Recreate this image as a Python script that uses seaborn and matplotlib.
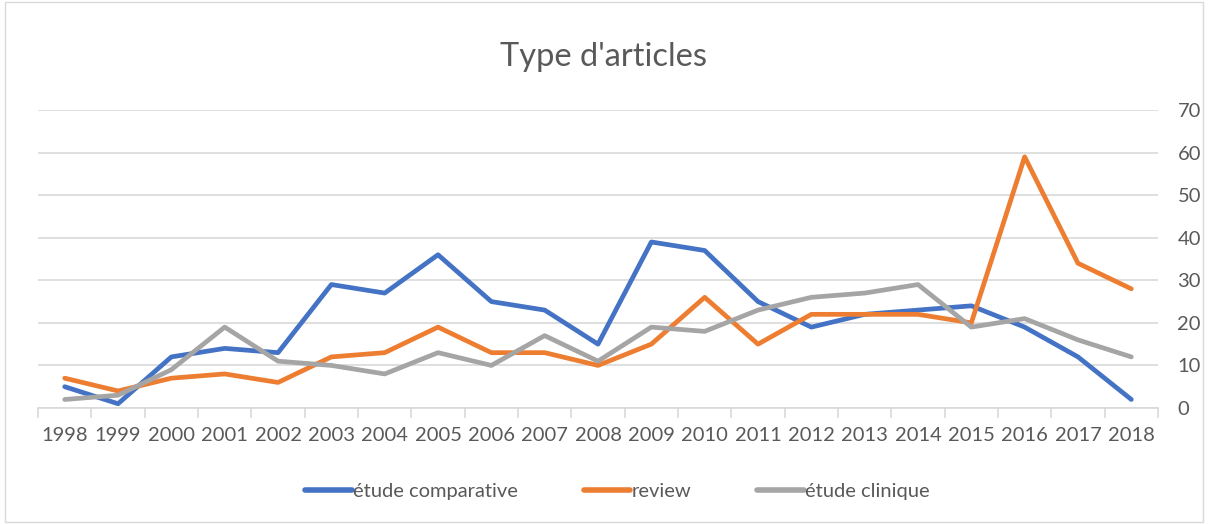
import pandas as pd
import seaborn as sns
import matplotlib.pyplot as plt
from matplotlib.ticker import MultipleLocator, FixedLocator

# Data
years = [str(y) for y in range(1998, 2019)]
etude_comparative = [5, 1, 12, 14, 13, 29, 27, 36, 25, 23, 15, 39, 37, 25, 19, 22, 23, 24, 19, 12, 2]
review = [7, 4, 7, 8, 6, 12, 13, 19, 13, 13, 10, 15, 26, 15, 22, 22, 22, 20, 59, 34, 28]
etude_clinique = [2, 3, 9, 19, 11, 10, 8, 13, 10, 17, 11, 19, 18, 23, 26, 27, 29, 19, 21, 16, 12]
series_names = ["étude comparative", "review", "étude clinique"]
palette = ["#4472C4", "#ED7D31", "#A5A5A5"]

df = pd.DataFrame({"year": years,
                   series_names[0]: etude_comparative,
                   series_names[1]: review,
                   series_names[2]: etude_clinique})
long = df.melt(id_vars="year", var_name="type", value_name="n")
long["pos"] = long["year"].map({y: i for i, y in enumerate(years)})

sns.set_style("white")
plt.rcParams['font.family'] = ['Lato', 'DejaVu Sans']
text_col = "#595959"

fig = plt.figure(figsize=(12.08, 5.24), dpi=100)
ax = fig.add_axes([0.0315, 0.2214, 0.9271, 0.5686])

sns.lineplot(data=long, x="pos", y="n", hue="type", hue_order=series_names,
             palette=palette, linewidth=3.4, ax=ax, legend=False)

ax.set_xlim(-0.5, len(years) - 0.5)
ax.set_ylim(0, 70)
ax.set_xticks(range(len(years)))
ax.set_xticklabels(years)
ax.xaxis.set_minor_locator(FixedLocator([i - 0.5 for i in range(len(years) + 1)]))
ax.tick_params(axis="x", which="major", length=0, pad=14, labelsize=14.5, labelcolor=text_col)
ax.tick_params(axis="x", which="minor", bottom=True, length=7, width=1.2, color="#D9D9D9", direction="out")
ax.yaxis.tick_right()
ax.yaxis.set_major_locator(MultipleLocator(10))
ax.tick_params(axis="y", length=0, pad=14, labelsize=14.5, labelcolor=text_col)
ax.grid(axis="y", color="#D9D9D9", linewidth=1.2)
ax.set_axisbelow(True)
for side in ["top", "left", "right"]:
    ax.spines[side].set_visible(False)
ax.spines["bottom"].set_color("#D9D9D9")
ax.spines["bottom"].set_linewidth(1.2)
ax.set_xlabel("")
ax.set_ylabel("")

fig.text(0.5, 0.892, "Type d'articles", ha="center", va="center", fontsize=23.5, color=text_col)

handles = [plt.Line2D([], [], color=c, linewidth=4, solid_capstyle="round") for c in palette]
fig.legend(handles, series_names, loc="center", bbox_to_anchor=(0.511, 0.062), ncol=3,
           frameon=False, fontsize=14.5, handlelength=2.3, handletextpad=0.05,
           columnspacing=3.3, labelcolor=text_col)

# light frame around the chart
fig.patches.append(plt.Rectangle((0.004, 0.004), 0.992, 0.992, transform=fig.transFigure,
                                 fill=False, edgecolor="#D9D9D9", linewidth=1))

fig.savefig("out.png", dpi=100)
